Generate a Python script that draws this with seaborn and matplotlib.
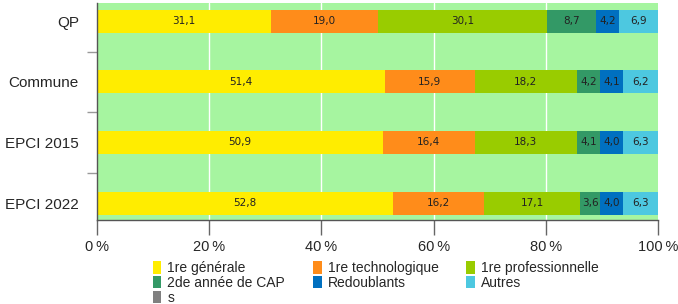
import numpy as np
import pandas as pd
import matplotlib
matplotlib.use("Agg")
import matplotlib.pyplot as plt
import seaborn as sns
from matplotlib.patches import Patch

sns.set_style("white")
plt.rcParams['font.family'] = ['Liberation Sans', 'DejaVu Sans']

# données
territoires = ['QP', 'Commune', 'EPCI 2015', 'EPCI 2022']
series = ['1re générale', '1re technologique', '1re professionnelle',
          '2de année de CAP', 'Redoublants', 'Autres', 's']
premiere_generale = [31.1, 51.4, 50.9, 52.8]
premiere_techno = [19.0, 15.9, 16.4, 16.2]
premiere_pro = [30.1, 18.2, 18.3, 17.1]
cap_2de = [8.7, 4.2, 4.1, 3.6]
redoublants = [4.2, 4.1, 4.0, 4.0]
autres = [6.9, 6.2, 6.3, 6.3]
secret = [0, 0, 0, 0]
couleurs = ['#FFED00', '#FF8C1A', '#99CC00', '#339966', '#0070C0', '#4DC8E0', '#808080']

valeurs = [premiere_generale, premiere_techno, premiere_pro, cap_2de,
           redoublants, autres, secret]
df = pd.DataFrame(np.array(valeurs).T, columns=series)
df['territoire'] = territoires
cumul = df[series].cumsum(axis=1)

fig = plt.figure(figsize=(6.78, 3.04), dpi=100)
ax = fig.add_axes([0.143, 0.276, 0.8275, 0.714])
ax.set_facecolor('#A6F5A0')

# barres empilées : on dessine les cumuls du plus long au plus court
for i in range(len(series) - 1, -1, -1):
    if df[series[i]].sum() == 0:
        continue
    sns.barplot(x=cumul[series[i]], y=df['territoire'], orient='h',
                color=couleurs[i], width=0.38, saturation=1,
                linewidth=0, ax=ax, zorder=2)

# étiquettes de valeurs
for j in range(len(territoires)):
    debut = 0
    for i, s in enumerate(series):
        v = df.loc[j, s]
        if v > 0:
            ax.text(debut + v / 2, j, f"{v:.1f}".replace('.', ','),
                    ha='center', va='center', fontsize=7.5,
                    family='DejaVu Sans', color='#222222', zorder=3)
        debut += v

ax.set_xlim(0, 100)
ax.set_ylim(3.28, -0.3)
ax.set_xlabel('')
ax.set_ylabel('')

ax.set_xticks(np.arange(0, 101, 20))
ax.set_xticklabels([f"{t}\u202f%" for t in range(0, 101, 20)], fontsize=10.5)
ax.tick_params(axis='x', bottom=True, length=11, width=1, color='#666666',
               direction='out', pad=3)

ax.set_yticks([0.5, 1.5, 2.5])
ax.set_yticklabels([])
ax.set_yticks(range(len(territoires)), minor=True)
ax.set_yticklabels(territoires, minor=True, fontsize=11)
ax.tick_params(axis='y', which='major', left=True, length=7, width=1,
               color='#999999', direction='out')
ax.tick_params(axis='y', which='minor', left=True, length=0, pad=13)

# seulement les lignes verticales blanches
ax.grid(False, which='both')
for x in [20, 40, 60, 80]:
    ax.axvline(x, color='white', linewidth=1, zorder=1)

for cote in ['top', 'right']:
    ax.spines[cote].set_visible(False)
for cote in ['left', 'bottom']:
    ax.spines[cote].set_color('#555555')
    ax.spines[cote].set_linewidth(1)

# légende lue ligne par ligne comme la référence
ordre = [0, 3, 6, 1, 4, 2, 5]
poignees = [Patch(facecolor=couleurs[k], edgecolor='none', label=series[k]) for k in ordre]
ax.legend(handles=poignees, loc='upper center', bbox_to_anchor=(0.497, -0.19),
          ncol=3, frameon=False, fontsize=10, handlelength=0.62,
          handleheight=1.0, handletextpad=0.45, columnspacing=2.0,
          labelspacing=0.05, borderaxespad=0, borderpad=0)

fig.savefig('out.png', dpi=100)
